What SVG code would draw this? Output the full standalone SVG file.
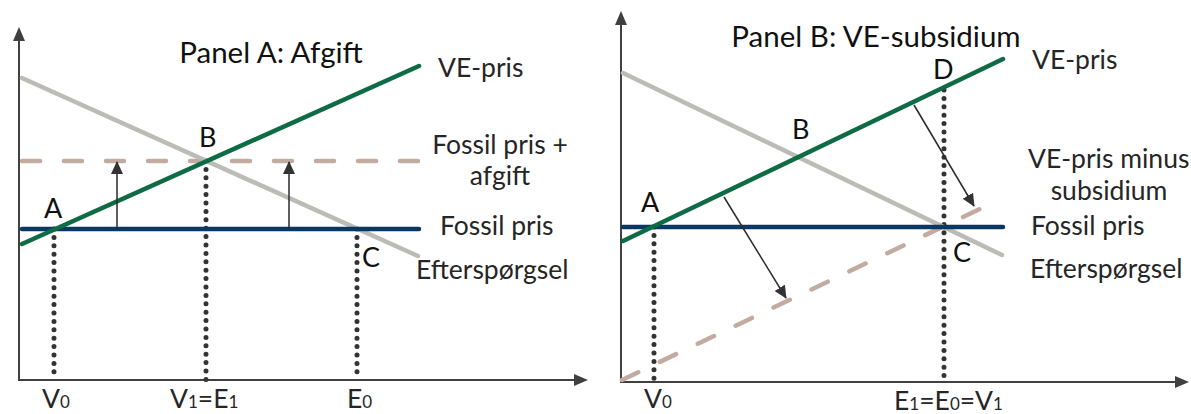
<svg xmlns="http://www.w3.org/2000/svg" width="1191" height="414" viewBox="0 0 1191 414">
<style>
text{font-family:Lato,"Open Sans","Liberation Sans",sans-serif;fill:#262626;font-size:26.5px}
.t{font-size:29.5px;fill:#111}
.pt{font-size:27px;fill:#111}
.axis{stroke:#404040;stroke-width:2;fill:none}
.ve{stroke:#0d6b45;stroke-width:4.5;stroke-linecap:round;fill:none}
.fos{stroke:#0b3763;stroke-width:4.5;stroke-linecap:round;fill:none}
.dem{stroke:#bcbcb7;stroke-width:4.5;stroke-linecap:round;fill:none}
.dash{stroke:#c2aca1;stroke-width:4.5;stroke-linecap:round;stroke-dasharray:18 24;fill:none}
.dot{stroke:#333;stroke-width:5;stroke-linecap:round;stroke-dasharray:0 8.4;fill:none}
.arr{stroke:#2a2a2a;stroke-width:1.5;fill:none}
.sub{font-size:17px}
</style>
<defs>
<marker id="ax" markerWidth="14" markerHeight="12" refX="1" refY="6" orient="auto" markerUnits="userSpaceOnUse">
<path d="M0,0 L14,6 L0,12 Z" fill="#404040"/>
</marker>
<marker id="ah" markerWidth="13" markerHeight="12" refX="12" refY="6" orient="auto" markerUnits="userSpaceOnUse">
<path d="M0,0 L13,6 L0,12 Z" fill="#333"/>
</marker>
</defs>
<g id="panelA">
<g id="axesA">
<path class="axis" d="M19,380 L19,40" marker-end="url(#ax)"/>
<path class="axis" d="M18,380 L575,380" marker-end="url(#ax)"/>
</g>
<g id="connectorsA">
<line class="dot" x1="54" y1="229" x2="54" y2="380"/>
<line class="dot" x1="206" y1="161" x2="206" y2="380"/>
<line class="dot" x1="357" y1="229" x2="357" y2="380"/>
<line class="dash" x1="22" y1="161" x2="419" y2="161"/>
<line class="dem" x1="22" y1="78" x2="418" y2="256"/>
<line class="fos" x1="22" y1="229" x2="419" y2="229"/>
<line class="ve" x1="22" y1="244" x2="419" y2="66"/>
<line class="arr" x1="117" y1="229" x2="117" y2="162" marker-end="url(#ah)"/>
<line class="arr" x1="289" y1="229" x2="289" y2="162" marker-end="url(#ah)"/>
</g>
<text id="titleA" class="t" x="271" y="63" text-anchor="middle">Panel A: Afgift</text>
<g id="labelsA">
<text x="438" y="77">VE-pris</text>
<text x="500" y="154" text-anchor="middle">Fossil pris +</text>
<text x="500" y="185" text-anchor="middle">afgift</text>
<text x="440" y="235">Fossil pris</text>
<text x="416" y="279">Efterspørgsel</text>
<text class="pt" x="44" y="218">A</text>
<text class="pt" x="199" y="147">B</text>
<text class="pt" x="362" y="267">C</text>
<text x="42" y="408">V<tspan class="sub">0</tspan></text>
<text x="170" y="408">V<tspan class="sub">1</tspan>=E<tspan class="sub">1</tspan></text>
<text x="347" y="408">E<tspan class="sub">0</tspan></text>
</g>
</g>
<g id="panelB">
<g id="axesB">
<path class="axis" d="M621,382 L621,24" marker-end="url(#ax)"/>
<path class="axis" d="M620,382 L1176,382" marker-end="url(#ax)"/>
</g>
<g id="connectorsB">
<line class="dot" x1="654" y1="227" x2="654" y2="382"/>
<line class="dot" x1="944" y1="90" x2="944" y2="382"/>
<line class="dash" x1="622" y1="380" x2="984" y2="207"/>
<line class="dem" x1="623" y1="73" x2="1002" y2="255"/>
<line class="fos" x1="623" y1="227" x2="1003" y2="227"/>
<line class="ve" x1="623" y1="241" x2="1003" y2="59"/>
<line class="arr" x1="724" y1="197" x2="786" y2="298" marker-end="url(#ah)"/>
<line class="arr" x1="914" y1="105" x2="974" y2="206" marker-end="url(#ah)"/>
</g>
<text id="titleB" class="t" x="876" y="47" text-anchor="middle">Panel B: VE-subsidium</text>
<g id="labelsB">
<text x="1032" y="69">VE-pris</text>
<text class="pt" x="933" y="79">D</text>
<text class="pt" x="792" y="139">B</text>
<text x="1028" y="168">VE-pris minus</text>
<text x="1109" y="200" text-anchor="middle">subsidium</text>
<text class="pt" x="641" y="212">A</text>
<text x="1031" y="235">Fossil pris</text>
<text class="pt" x="953" y="262">C</text>
<text x="1030" y="278">Efterspørgsel</text>
<text x="644" y="408">V<tspan class="sub">0</tspan></text>
<text x="894" y="410">E<tspan class="sub">1</tspan>=E<tspan class="sub">0</tspan>=V<tspan class="sub">1</tspan></text>
</g>
</g>
</svg>
